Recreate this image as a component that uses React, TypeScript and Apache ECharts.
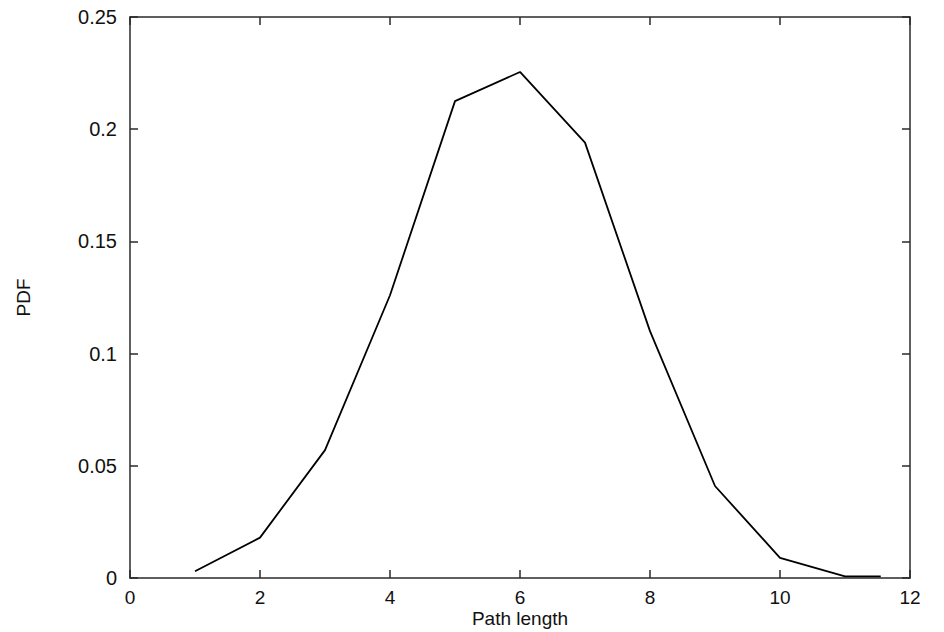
import React, { useEffect, useRef } from "react";
import * as echarts from "echarts";

const pathLengths = [1, 2, 3, 4, 5, 6, 7, 8, 9, 10, 11, 11.55];
const pdfValues = [0.003, 0.018, 0.057, 0.126, 0.2125, 0.2255, 0.194, 0.11, 0.041, 0.009, 0.0007, 0.0007];
const xTicks = { min: 0, max: 12, interval: 2 };
const yTicks = { min: 0, max: 0.25, interval: 0.05 };

export default function App() {
  const ref = useRef<HTMLDivElement>(null);
  useEffect(() => {
    if (!ref.current) return;
    const chart = echarts.init(ref.current, undefined, { renderer: "svg" });
    const font = "'Liberation Sans', Arial, sans-serif";
    const axisLine = { show: true, onZero: false, lineStyle: { color: "#2a2a2a", width: 1.5 } };
    const tick = { show: true, inside: true, length: 8, lineStyle: { color: "#2a2a2a", width: 1.5 } };
    chart.setOption({
      animation: false,
      backgroundColor: "#fff",
      grid: { left: 130, right: 34, top: 17, bottom: 54, containLabel: false, outerBoundsMode: "none" },
      xAxis: [
        {
          type: "value",
          ...xTicks,
          position: "bottom",
          name: "Path length",
          nameLocation: "middle",
          nameGap: 31,
          nameMoveOverlap: false,
          nameTextStyle: { fontFamily: font, fontSize: 19, color: "#111" },
          axisLine,
          axisTick: tick,
          splitLine: { show: false },
          axisLabel: { fontFamily: font, fontSize: 19, color: "#111", margin: 10 },
        },
        {
          type: "value",
          ...xTicks,
          position: "top",
          axisLine,
          axisTick: tick,
          splitLine: { show: false },
          axisLabel: { show: false },
        },
      ],
      yAxis: [
        {
          type: "value",
          ...yTicks,
          position: "left",
          name: "PDF",
          nameLocation: "middle",
          nameGap: 97,
          nameMoveOverlap: false,
          nameTextStyle: { fontFamily: font, fontSize: 19, color: "#111" },
          axisLine,
          axisTick: tick,
          splitLine: { show: false },
          axisLabel: { fontFamily: font, fontSize: 20, color: "#111", margin: 13 },
        },
        {
          type: "value",
          ...yTicks,
          position: "right",
          axisLine,
          axisTick: tick,
          splitLine: { show: false },
          axisLabel: { show: false },
        },
      ],
      series: [
        {
          type: "line",
          data: pathLengths.map((x, i) => [x, pdfValues[i]]),
          showSymbol: false,
          lineStyle: { color: "#000", width: 1.8 },
          xAxisIndex: 0,
          yAxisIndex: 0,
        },
      ],
    });
    return () => chart.dispose();
  }, []);
  return (
    <div
      ref={ref}
      style={{ position: "fixed", left: 0, top: 0, width: 944, height: 632 }}
    />
  );
}
